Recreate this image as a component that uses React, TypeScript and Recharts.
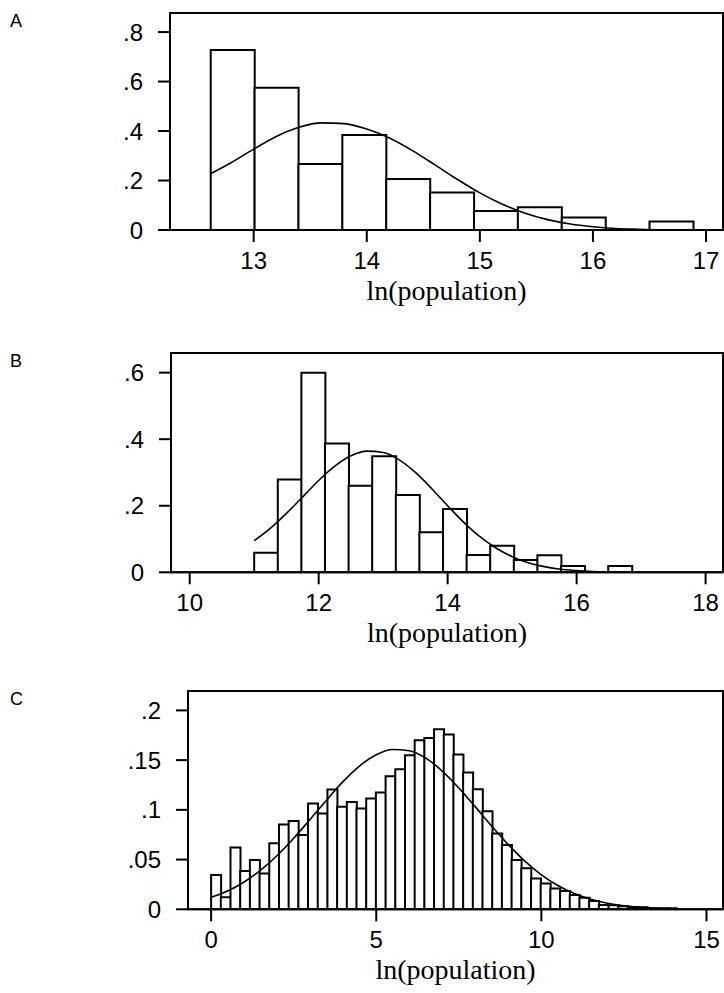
import { ComposedChart, Bar, Line, XAxis, YAxis, ReferenceArea } from "recharts";

// Panel A: cities, ln(population)
const binStartA = 12.62;
const binWidthA = 0.388;
const densityA = [0.727, 0.575, 0.267, 0.384, 0.206, 0.152, 0.077, 0.092, 0.051, 0, 0.034];
const curveXA = [12.62, 12.8, 13.0, 13.2, 13.4, 13.6, 13.8, 14.0, 14.2, 14.4, 14.6, 14.8, 15.0, 15.2, 15.4, 15.6, 15.8, 16.0, 16.2, 16.4, 16.6, 16.89];
const curveYA = [0.228, 0.272, 0.327, 0.378, 0.415, 0.433, 0.43, 0.408, 0.372, 0.322, 0.264, 0.205, 0.15, 0.104, 0.068, 0.042, 0.024, 0.013, 0.006, 0.003, 0.001, 0.0003];
const xTicksA = [13, 14, 15, 16, 17];
const yTicksA = [0, 0.2, 0.4, 0.6, 0.8];

// Panel B
const binStartB = 11.0;
const binWidthB = 0.366;
const densityB = [0.059, 0.279, 0.6, 0.387, 0.26, 0.349, 0.232, 0.12, 0.19, 0.052, 0.08, 0.037, 0.051, 0.019, 0, 0.019];
const curveXB = [11.0, 11.25, 11.5, 11.75, 12.0, 12.25, 12.5, 12.75, 13.0, 13.25, 13.5, 13.75, 14.0, 14.25, 14.5, 14.75, 15.0, 15.25, 15.5, 15.75, 16.0, 16.25, 16.5, 16.75];
const curveYB = [0.095, 0.132, 0.177, 0.226, 0.276, 0.319, 0.35, 0.364, 0.36, 0.338, 0.3, 0.252, 0.2, 0.15, 0.107, 0.073, 0.047, 0.029, 0.017, 0.009, 0.005, 0.0024, 0.0011, 0.0005];
const xTicksB = [10, 12, 14, 16, 18];
const yTicksB = [0, 0.2, 0.4, 0.6];

// Panel C
const binStartC = 0.0;
const binWidthC = 0.2935;
const densityC = [
  0.0344, 0.012, 0.0622, 0.0385, 0.0495, 0.036, 0.0663, 0.0853, 0.0887, 0.0746, 0.1064, 0.0964,
  0.1205, 0.103, 0.108, 0.1014, 0.1114, 0.1175, 0.1338, 0.1409, 0.155, 0.17, 0.1723, 0.181,
  0.1757, 0.1556, 0.1375, 0.1208, 0.0987, 0.0763, 0.0646, 0.0495, 0.0412, 0.031, 0.026, 0.021,
  0.0184, 0.0144, 0.0117, 0.0083, 0.0043, 0.004, 0.003, 0.002, 0.002, 0.001, 0.001, 0.001,
];
const curveXC = [0, 0.5, 1, 1.5, 2, 2.5, 3, 3.5, 4, 4.5, 5, 5.5, 6, 6.5, 7, 7.5, 8, 8.5, 9, 9.5, 10, 10.5, 11, 11.5, 12, 12.5, 13, 13.5, 14];
const curveYC = [0.012, 0.0184, 0.0275, 0.0393, 0.0541, 0.0714, 0.0905, 0.11, 0.1286, 0.1443, 0.1554, 0.1607, 0.1595, 0.152, 0.139, 0.122, 0.103, 0.0835, 0.065, 0.0484, 0.0347, 0.0239, 0.0158, 0.01, 0.0061, 0.0036, 0.002, 0.0011, 0.0006];
const xTicksC = [0, 5, 10, 15];
const yTicksC = [0, 0.05, 0.1, 0.15, 0.2];

const sans = "'Liberation Sans', Arial, sans-serif";
const serif = "'Liberation Serif', 'Times New Roman', serif";

const fmt = (v: number) => (v === 0 ? "0" : String(v).replace(/^0/, ""));

interface PanelProps {
  letter: string;
  top: number;
  height: number;
  marginTop: number;
  yAxisWidth: number;
  xAxisHeight: number;
  xDomain: [number, number];
  yMax: number;
  binStart: number;
  binWidth: number;
  density: number[];
  curveX: number[];
  curveY: number[];
  xTicks: number[];
  yTicks: number[];
}

function Histogram(p: PanelProps) {
  const bars = p.density.map((d, i) => ({ x: p.binStart + (i + 0.5) * p.binWidth, d }));
  const curve = p.curveX.map((x, i) => ({ x, y: p.curveY[i] }));
  return (
    <div style={{ position: "absolute", left: 0, top: p.top, width: 724, height: p.height }}>
      <div
        style={{
          position: "absolute",
          left: 10,
          top: p.marginTop - 2,
          fontFamily: sans,
          fontSize: 18,
          lineHeight: "20px",
        }}
      >
        {p.letter}
      </div>
      <ComposedChart
        width={724}
        height={p.height}
        data={bars}
        margin={{ top: p.marginTop, right: 1, bottom: 0, left: 0 }}
        barCategoryGap={0}
        barGap={0}
      >
        <XAxis xAxisId="bars" dataKey="x" type="number" domain={p.xDomain} allowDataOverflow hide height={0} />
        <XAxis
          xAxisId="curve"
          dataKey="x"
          type="number"
          domain={p.xDomain}
          allowDataOverflow
          ticks={p.xTicks}
          interval={0}
          height={p.xAxisHeight}
          tickSize={12}
          tickMargin={10}
          stroke="#000"
          strokeWidth={2}
          tick={{ fill: "#000", fontSize: 24, fontFamily: sans }}
          label={{
            value: "ln(population)",
            position: "insideTop",
            offset: 50,
            fill: "#000",
            fontSize: 28,
            fontFamily: serif,
          }}
        />
        <YAxis
          domain={[0, p.yMax]}
          allowDataOverflow
          ticks={p.yTicks}
          interval={0}
          width={p.yAxisWidth}
          tickSize={12}
          tickMargin={15}
          tickFormatter={fmt}
          stroke="#000"
          strokeWidth={2}
          tick={{ fill: "#000", fontSize: 24, fontFamily: sans }}
        />
        <ReferenceArea
          xAxisId="curve"
          x1={p.xDomain[0]}
          x2={p.xDomain[1]}
          y1={0}
          y2={p.yMax}
          fill="none"
          stroke="#000"
          strokeWidth={2}
          ifOverflow="visible"
        />
        <Bar xAxisId="bars" dataKey="d" fill="#fff" stroke="#000" strokeWidth={2} isAnimationActive={false} />
        <Line
          xAxisId="curve"
          data={curve}
          dataKey="y"
          type="monotone"
          stroke="#000"
          strokeWidth={1.6}
          dot={false}
          isAnimationActive={false}
        />
      </ComposedChart>
    </div>
  );
}

export default function App() {
  return (
    <div style={{ position: "absolute", left: 0, top: 0, width: 724, height: 993, background: "#fff" }}>
      <Histogram
        letter="A"
        top={0}
        height={320}
        marginTop={13}
        yAxisWidth={170}
        xAxisHeight={90}
        xDomain={[12.26, 17.15]}
        yMax={0.877}
        binStart={binStartA}
        binWidth={binWidthA}
        density={densityA}
        curveX={curveXA}
        curveY={curveYA}
        xTicks={xTicksA}
        yTicks={yTicksA}
      />
      <Histogram
        letter="B"
        top={320}
        height={340}
        marginTop={33}
        yAxisWidth={171}
        xAxisHeight={87.7}
        xDomain={[9.71, 18.27]}
        yMax={0.659}
        binStart={binStartB}
        binWidth={binWidthB}
        density={densityB}
        curveX={curveXB}
        curveY={curveYB}
        xTicks={xTicksB}
        yTicks={yTicksB}
      />
      <Histogram
        letter="C"
        top={660}
        height={333}
        marginTop={31}
        yAxisWidth={188}
        xAxisHeight={83.7}
        xDomain={[-0.7, 15.5]}
        yMax={0.2195}
        binStart={binStartC}
        binWidth={binWidthC}
        density={densityC}
        curveX={curveXC}
        curveY={curveYC}
        xTicks={xTicksC}
        yTicks={yTicksC}
      />
    </div>
  );
}
